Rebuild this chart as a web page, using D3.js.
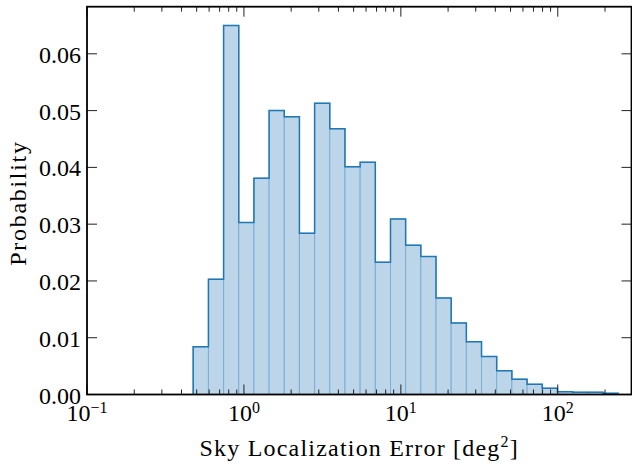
<!DOCTYPE html>
<html>
<head>
<meta charset="utf-8">
<script src="https://cdn.jsdelivr.net/npm/d3@7"></script>
<style>
  body { margin: 0; background: #fff; }
  text { font-family: "Liberation Serif", "DejaVu Serif", serif; fill: #000; }
</style>
</head>
<body>
<div class="chart"></div>
<script>
// bin edges of the histogram (deg^2)
const binEdges = [0.475, 0.594, 0.742, 0.927, 1.158, 1.447, 1.807, 2.258, 2.821, 3.525,
    4.404, 5.503, 6.875, 8.590, 10.73, 13.41, 16.75, 20.93, 26.15, 32.67,
    40.82, 51.00, 63.72, 79.61, 99.47, 124.3, 155.3, 194.0, 242.4];
// probability in each bin
const binValues = [0.0084, 0.0203, 0.0650, 0.0303, 0.0381, 0.0500, 0.0489, 0.0284, 0.0513, 0.0468,
    0.0401, 0.0409, 0.0233, 0.0309, 0.0263, 0.0243, 0.0170, 0.0126, 0.0093, 0.0067,
    0.0042, 0.0027, 0.0018, 0.0011, 0.0005, 0.0004, 0.0004, 0.0002];
const xMajorTicks = [0.1, 1, 10, 100];
const xTickExponents = ["\u22121", "0", "1", "2"];
const yTicks = [0, 0.01, 0.02, 0.03, 0.04, 0.05, 0.06];

const W = 632, H = 466;
const margin = ({top: 6.7, right: 0.5, bottom: 71.5, left: 87});
const width = W - margin.left - margin.right;
const height = H - margin.top - margin.bottom;
const serif = '"Liberation Serif", "DejaVu Serif", serif';

const svg = d3.select('.chart')
    .append('svg')
    .attr('width', W)
    .attr('height', H)
    .style('font-family', serif);

const g = svg.append('g')
    .attr('transform', `translate(${margin.left},${margin.top})`);

const xScale = d3.scaleLog()
    .domain([0.1, 295])
    .range([0, width]);

const yScale = d3.scaleLinear()
    .domain([0, 0.0683])
    .range([height, 0]);

const bins = binValues.map((v, i) => ({x0: binEdges[i], x1: binEdges[i + 1], v: v}));

// filled bars
g.append('g')
    .selectAll('rect')
    .data(bins)
    .enter()
    .append('rect')
        .attr('x', d => xScale(d.x0))
        .attr('y', d => yScale(d.v))
        .attr('width', d => xScale(d.x1) - xScale(d.x0))
        .attr('height', d => yScale(0) - yScale(d.v))
        .style('fill', 'rgb(189,213,232)')
        .style('stroke', 'rgb(122,174,214)')
        .style('stroke-width', 1);

// step outline
const stepPts = [[xScale(binEdges[0]), yScale(0)]];
bins.forEach(d => {
    stepPts.push([xScale(d.x0), yScale(d.v)]);
    stepPts.push([xScale(d.x1), yScale(d.v)]);
});
stepPts.push([xScale(binEdges[binEdges.length - 1]), yScale(0)]);

g.append('path')
    .attr('d', d3.line()(stepPts))
    .style('fill', 'none')
    .style('stroke', '#1f77b4')
    .style('stroke-width', 1.5)
    .style('stroke-linejoin', 'miter');

// minor x ticks (2..9 of each decade)
const xMinor = [];
[0.1, 1, 10, 100].forEach(dec => {
    for (let k = 2; k <= 9; k++) {
        if (dec * k <= 295) xMinor.push(dec * k);
    }
});

const tickColor = '#222';
const ticks = g.append('g').style('stroke', tickColor).style('stroke-width', 1);

// bottom + top ticks
xMajorTicks.forEach(t => {
    ticks.append('line').attr('x1', xScale(t)).attr('x2', xScale(t)).attr('y1', height).attr('y2', height - 10);
    ticks.append('line').attr('x1', xScale(t)).attr('x2', xScale(t)).attr('y1', 0).attr('y2', 10);
});
xMinor.forEach(t => {
    ticks.append('line').attr('x1', xScale(t)).attr('x2', xScale(t)).attr('y1', height).attr('y2', height - 5);
    ticks.append('line').attr('x1', xScale(t)).attr('x2', xScale(t)).attr('y1', 0).attr('y2', 5);
});
// left + right ticks
yTicks.forEach(t => {
    ticks.append('line').attr('x1', 0).attr('x2', 10).attr('y1', yScale(t)).attr('y2', yScale(t));
    ticks.append('line').attr('x1', width).attr('x2', width - 10).attr('y1', yScale(t)).attr('y2', yScale(t));
});

// frame
g.append('rect')
    .attr('x', 0)
    .attr('y', 0)
    .attr('width', width)
    .attr('height', height)
    .style('fill', 'none')
    .style('stroke', '#000')
    .style('stroke-width', 1.8);

// y tick labels
g.append('g')
    .selectAll('text')
    .data(yTicks)
    .enter()
    .append('text')
        .attr('x', -6)
        .attr('y', d => yScale(d))
        .attr('dy', '0.38em')
        .attr('text-anchor', 'end')
        .style('font-size', '24px')
        .text(d => d3.format('.2f')(d));

// x tick labels 10^n
const xl = g.append('g')
    .selectAll('text')
    .data(xMajorTicks)
    .enter()
    .append('text')
        .attr('x', d => xScale(d))
        .attr('y', height + 27)
        .attr('text-anchor', 'middle')
        .style('font-size', '24px');
xl.append('tspan').text('10');
xl.append('tspan')
    .attr('dy', -8)
    .style('font-size', '16px')
    .text((d, i) => xTickExponents[i]);

// axis titles
const xt = svg.append('text')
    .attr('x', margin.left + width / 2)
    .attr('y', 456)
    .attr('text-anchor', 'middle')
    .style('font-size', '24px')
    .style('letter-spacing', '1.2px');
xt.append('tspan').text('Sky Localization Error [deg');
xt.append('tspan').attr('dy', -9).style('font-size', '16px').text('2');
xt.append('tspan').attr('dy', 9).text(']');

svg.append('text')
    .attr('transform', 'translate(26,203) rotate(-90)')
    .attr('text-anchor', 'middle')
    .style('font-size', '24px')
    .style('letter-spacing', '1.7px')
    .text('Probability');
</script>
</body>
</html>
